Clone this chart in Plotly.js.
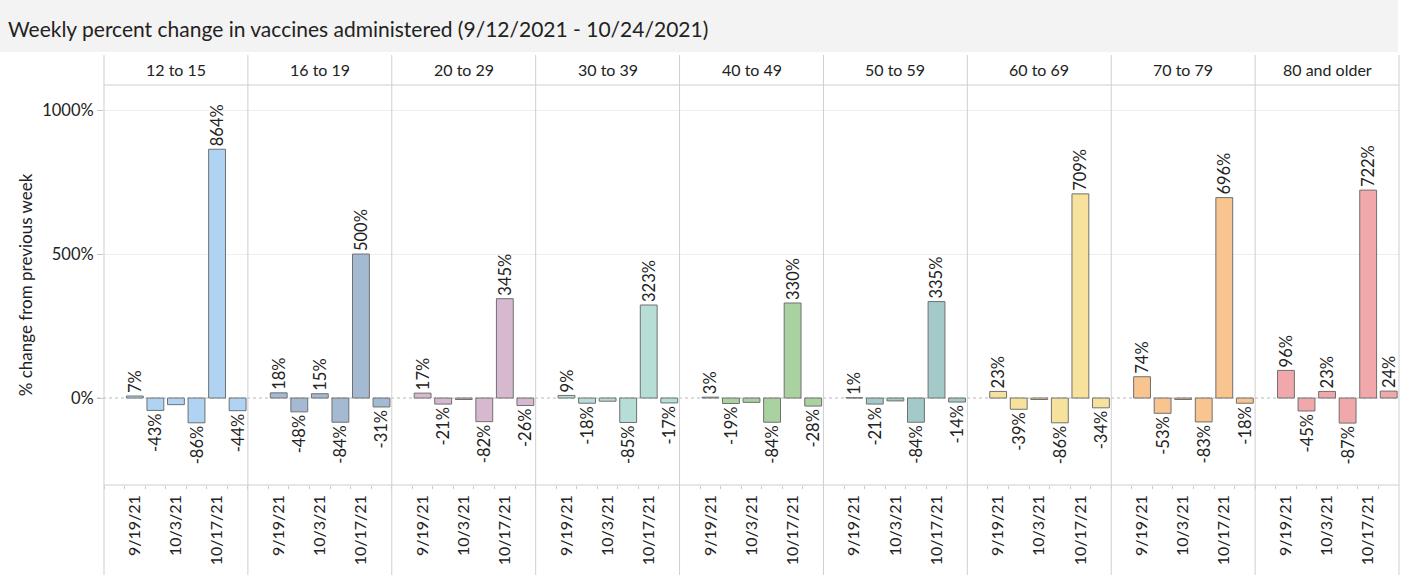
<!DOCTYPE html>
<html><head><meta charset="utf-8">
<script src="https://cdn.plot.ly/plotly-3.0.1.min.js"></script>
<style>html,body{margin:0;padding:0;background:#fff;} #chart{width:1408px;height:575px;}</style>
</head><body><div id="chart"></div>
<script>
// ---- data ----
const weeks = ['9/12/21','9/19/21','9/26/21','10/3/21','10/10/21','10/17/21','10/24/21'];
const tickLabels = ['', '9/19/21', '', '10/3/21', '', '10/17/21', ''];
const barWeeks = ['9/19/21','9/26/21','10/3/21','10/10/21','10/17/21','10/24/21'];
const ageGroups = ['12 to 15','16 to 19','20 to 29','30 to 39','40 to 49','50 to 59','60 to 69','70 to 79','80 and older'];
const change_12_15 = [7, -43, -23, -86, 864, -44];
const change_16_19 = [18, -48, 15, -84, 500, -31];
const change_20_29 = [17, -21, -5, -82, 345, -26];
const change_30_39 = [9, -18, -11, -85, 323, -17];
const change_40_49 = [3, -19, -15, -84, 330, -28];
const change_50_59 = [1, -21, -10, -84, 335, -14];
const change_60_69 = [23, -39, -5, -86, 709, -34];
const change_70_79 = [74, -53, -5, -83, 696, -18];
const change_80_up = [96, -45, 23, -87, 722, 24];
const seriesValues = [change_12_15, change_16_19, change_20_29, change_30_39, change_40_49,
                      change_50_59, change_60_69, change_70_79, change_80_up];
// labels that are not drawn in the original (week 10/3/21 except two groups)
const hiddenLabelWeek = '10/3/21';
const groupsShowingHiddenWeek = ['16 to 19', '80 and older'];
const yTicks = [0, 500, 1000];
const colors = ['#b1d3f3','#a4b9d2','#d6b9cf','#b6ddd6','#aad2a1','#a3c9c9','#f6e29d','#f8c48f','#f1a8aa'];

// ---- layout helpers ----
const FONT = 'Lato, Open Sans, sans-serif';
const W = 1408, H = 575, ML = 104, MR = 9, MT = 85, MB = 90;
const PW = W - ML - MR, PH = H - MT - MB;
const px2x = p => (p - ML) / PW;
const py2y = p => 1 - (p - MT) / PH;
const n = ageGroups.length;

const traces = [];
const layout = {
  width: W, height: H,
  margin: {l: ML, r: MR, t: MT, b: MB, pad: 0},
  paper_bgcolor: '#ffffff', plot_bgcolor: '#ffffff',
  showlegend: false,
  font: {family: FONT, color: '#222222'},
  title: {
    text: 'Weekly percent change in vaccines administered (9/12/2021 - 10/24/2021)',
    font: {family: FONT, size: 21, color: '#222222'},
    x: 8 / W, xref: 'container', xanchor: 'left',
    y: 1 - 30 / H, yref: 'container', yanchor: 'middle'
  },
  yaxis: {
    domain: [0, 1], anchor: 'x', range: [-302, 1087],
    tickvals: yTicks, ticktext: yTicks.map(v => v + '%'),
    ticks: 'outside', ticklen: 6, tickcolor: '#c8c8c8', tickwidth: 1,
    tickfont: {family: FONT, size: 16.5, color: '#222222'},
    showgrid: false, zeroline: false, showline: false,
    minor: {tickvals: [500, 1000], showgrid: true, gridcolor: '#efefef', gridwidth: 1, ticks: ''},
    title: {text: '% change from previous week', font: {family: FONT, size: 17, color: '#222222'}, standoff: 5},
    fixedrange: true
  },
  shapes: [],
  annotations: []
};

// title background band
layout.shapes.push({type: 'rect', xref: 'paper', yref: 'paper', layer: 'below',
  x0: px2x(0), x1: px2x(1398), y0: py2y(52), y1: py2y(0), fillcolor: '#f3f3f3', line: {width: 0}});

for (let i = 0; i < n; i++) {
  const ax = i === 0 ? 'x' : 'x' + (i + 1);
  const axKey = i === 0 ? 'xaxis' : 'xaxis' + (i + 1);
  layout[axKey] = {
    domain: [i / n, (i + 1) / n], anchor: 'y', type: 'category',
    categoryorder: 'array', categoryarray: weeks, range: [-0.5, 6.5],
    tickmode: 'array', tickvals: weeks, ticktext: tickLabels, tickangle: -90,
    tickson: 'boundaries', ticks: 'outside', ticklen: 3, tickcolor: '#c8c8c8',
    ticklabelstandoff: 6,
    tickfont: {family: FONT, size: 16, color: '#222222'},
    showgrid: false, zeroline: false, showline: false, fixedrange: true
  };
  const vals = seriesValues[i];
  const texts = vals.map((v, k) => {
    if (barWeeks[k] === hiddenLabelWeek && groupsShowingHiddenWeek.indexOf(ageGroups[i]) < 0) return '';
    return v + '%';
  });
  traces.push({
    type: 'bar', xaxis: ax, yaxis: 'y', x: barWeeks, y: vals, width: 0.82,
    marker: {color: colors[i], line: {color: '#707070', width: 1}},
    text: texts, textposition: 'outside', textangle: -90, constraintext: 'none',
    textfont: {family: FONT, size: 16.5, color: '#222222'}, cliponaxis: false,
    hoverinfo: 'skip'
  });
  layout.annotations.push({xref: 'paper', yref: 'paper', x: (i + 0.5) / n, y: py2y(70),
    text: ageGroups[i], showarrow: false, xanchor: 'center', yanchor: 'middle',
    font: {family: FONT, size: 16, color: '#222222'}});
}
// panel separators
for (let i = 0; i <= n; i++) {
  layout.shapes.push({type: 'line', xref: 'paper', yref: 'paper', x0: i / n, x1: i / n,
    y0: py2y(H), y1: py2y(55), line: {color: '#cfcfcf', width: 1}});
}
layout.shapes.push({type: 'line', xref: 'paper', yref: 'paper', x0: 0, x1: 1, y0: 1, y1: 1, line: {color: '#cfcfcf', width: 1}});
layout.shapes.push({type: 'line', xref: 'paper', yref: 'paper', x0: 0, x1: 1, y0: 0, y1: 0, line: {color: '#cfcfcf', width: 1}});
// dotted zero reference
layout.shapes.push({type: 'line', xref: 'paper', yref: 'y', layer: 'below', x0: px2x(97), x1: 1, y0: 0, y1: 0,
  line: {color: '#b8b8b8', width: 1, dash: 'dot'}});

Plotly.newPlot('chart', traces, layout, {displayModeBar: false, staticPlot: true});
</script></body></html>
